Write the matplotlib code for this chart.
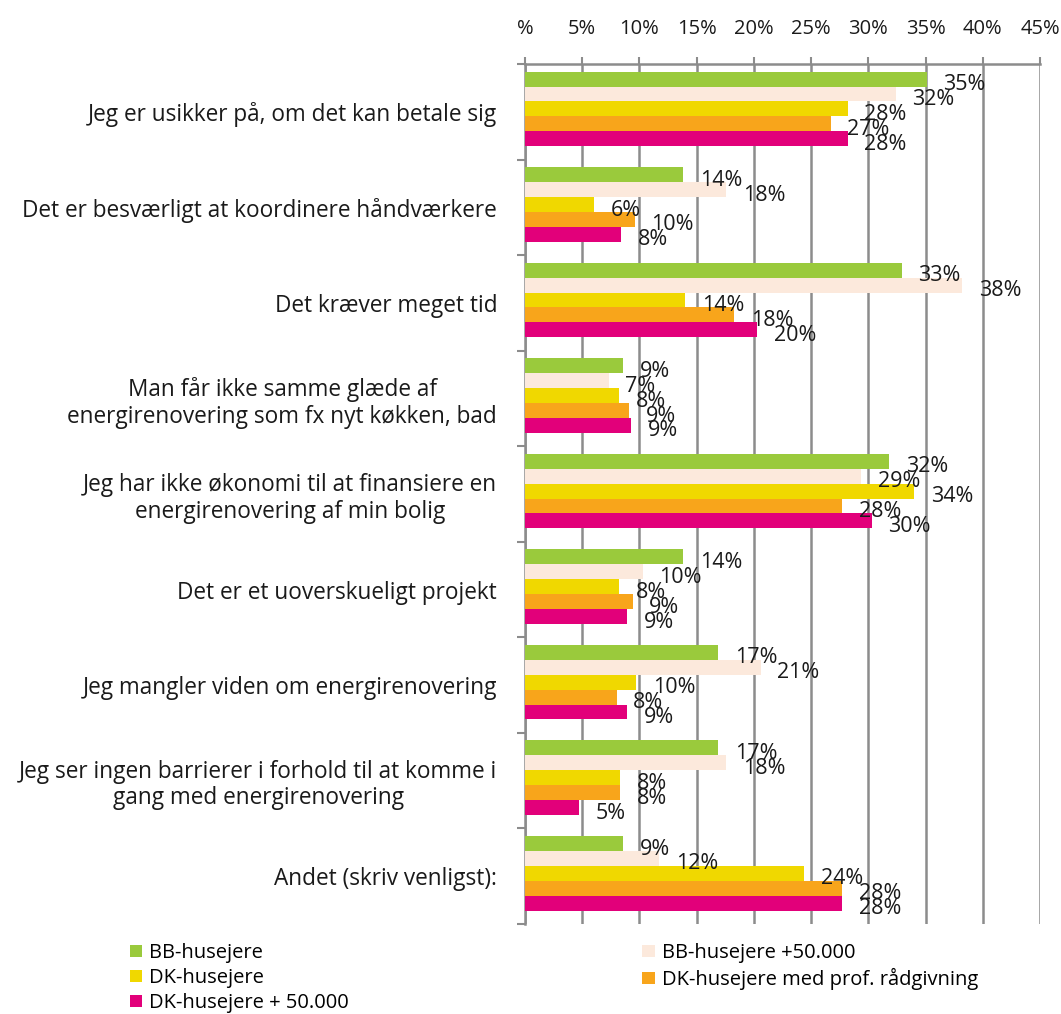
import matplotlib.pyplot as plt
from matplotlib.ticker import FuncFormatter, FixedLocator
import numpy as np

# -----------------------------------
# Data
# -----------------------------------
categories = [
    "Jeg er usikker på, om det kan betale sig",
    "Det er besværligt at koordinere håndværkere",
    "Det kræver meget tid",
    "Man får ikke samme glæde af\nenergirenovering som fx nyt køkken, bad",
    "Jeg har ikke økonomi til at finansiere en\nenergirenovering af min bolig",
    "Det er et uoverskueligt projekt",
    "Jeg mangler viden om energirenovering",
    "Jeg ser ingen barrierer i forhold til at komme i\ngang med energirenovering",
    "Andet (skriv venligst):",
]

series_names = [
    "BB-husejere",
    "BB-husejere +50.000",
    "DK-husejere",
    "DK-husejere med prof. rådgivning",
    "DK-husejere + 50.000",
]

bb = [35.1, 13.8, 32.9, 8.6, 31.8, 13.8, 16.9, 16.9, 8.6]
bb_50 = [32.4, 17.6, 38.2, 7.3, 29.4, 10.3, 20.6, 17.6, 11.7]
dk = [28.2, 6.0, 14.0, 8.2, 34.0, 8.2, 9.7, 8.3, 24.4]
dk_prof = [26.7, 9.6, 18.3, 9.1, 27.7, 9.4, 8.0, 8.3, 27.7]
dk_50 = [28.2, 8.4, 20.3, 9.3, 30.3, 8.9, 8.9, 4.7, 27.7]

values = [bb, bb_50, dk, dk_prof, dk_50]
colors = ["#9ACA3C", "#FCE9DC", "#F0D800", "#F8A51B", "#E2007A"]

xticks = [0, 5, 10, 15, 20, 25, 30, 35, 40, 45]

# -----------------------------------
# Plot
# -----------------------------------
plt.rcParams['font.family'] = ['Open Sans', 'DejaVu Sans']

fig = plt.figure(figsize=(10.61, 10.14), dpi=100)
ax = fig.add_axes([0.4948, 0.0888, 0.4854, 0.8481])

y = np.arange(len(categories))
h = 0.156
handles = []
for j, (vals, col, name) in enumerate(zip(values, colors, series_names)):
    pos = y + (j - 2) * h - 0.03
    b = ax.barh(pos, vals, height=h, color=col, label=name, zorder=3)
    handles.append(b)
    for p, v in zip(pos, vals):
        ax.annotate(f"{round(v):.0f}%", (v, p), xytext=(12, -4),
                    textcoords='offset points', ha='left', va='center',
                    fontsize=15.5, color='#1a1a1a', zorder=4)

ax.set_xlim(0, 45)
ax.set_ylim(8.5, -0.5)

# x axis on top
ax.xaxis.tick_top()
ax.set_xticks(xticks)
ax.xaxis.set_major_formatter(FuncFormatter(lambda v, _: "%" if v == 0 else f"{v:.0f}%"))
ax.tick_params(axis='x', length=5, width=1.5, color='#8C8C8C', pad=13,
               labelsize=14.5, labelcolor='#1a1a1a')
ax.grid(axis='x', color='#8C8C8C', linewidth=1.8, zorder=0)

# y axis
ax.set_yticks(y)
ax.set_yticklabels(categories)
ax.yaxis.set_minor_locator(FixedLocator(np.arange(-0.5, 9.0, 1.0)))
ax.tick_params(axis='y', which='major', length=0, pad=20, labelsize=16.3,
               labelcolor='#1a1a1a')
ax.tick_params(axis='y', which='minor', length=6, width=1.5, color='#8C8C8C')
for lab in ax.get_yticklabels():
    lab.set_multialignment('center')
    lab.set_linespacing(1.15)

for s in ['right', 'bottom']:
    ax.spines[s].set_visible(False)
for s in ['left', 'top']:
    ax.spines[s].set_color('#8C8C8C')
    ax.spines[s].set_linewidth(1.8)

# legend (row-major order like the original)
order = [0, 2, 4, 1, 3]
fig.legend([handles[i] for i in order], [series_names[i] for i in order],
           loc='lower left', bbox_to_anchor=(0.105, -0.017), ncol=2,
           frameon=False, fontsize=14.5, handlelength=0.6, handleheight=0.6,
           handletextpad=0.35, columnspacing=14.6, labelspacing=0.25)

plt.savefig('out.png', dpi=100)
